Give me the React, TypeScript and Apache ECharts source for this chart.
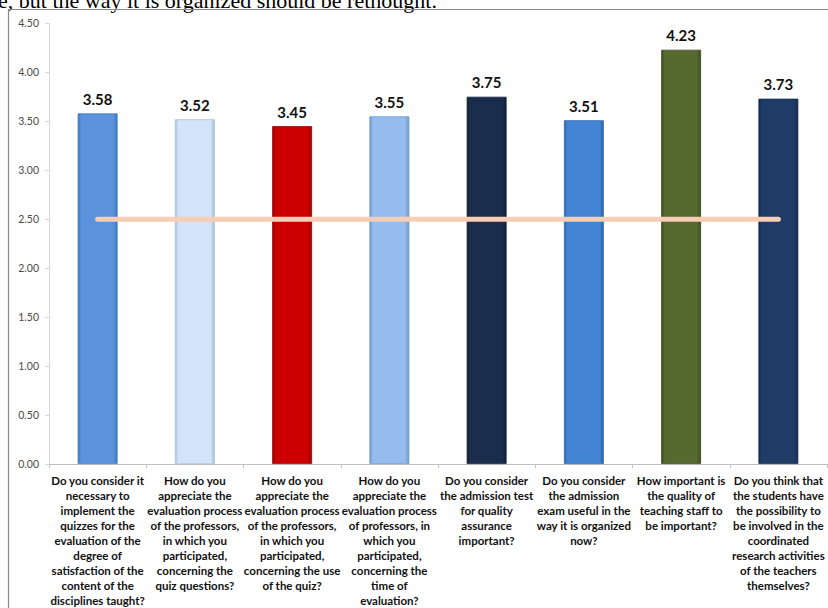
import React, { useEffect, useRef } from "react";
import * as echarts from "echarts";

// Question texts shown under each bar (pre-wrapped into lines)
const questions: string[] = [
  "Do you consider it\nnecessary to\nimplement the\nquizzes for the\nevaluation of the\ndegree of\nsatisfaction of the\ncontent of the\ndisciplines taught?",
  "How do you\nappreciate the\nevaluation process\nof the professors,\nin which you\nparticipated,\nconcerning the\nquiz questions?",
  "How do you\nappreciate the\nevaluation process\nof the professors,\nin which you\nparticipated,\nconcerning the use\nof the quiz?",
  "How do you\nappreciate the\nevaluation process\nof professors, in\nwhich you\nparticipated,\nconcerning the\ntime of\nevaluation?",
  "Do you consider\nthe admission test\nfor quality\nassurance\nimportant?",
  "Do you consider\nthe admission\nexam useful in the\nway it is organized\nnow?",
  "How important is\nthe quality of\nteaching staff to\nbe important?",
  "Do you think that\nthe students have\nthe possibility to\nbe involved in the\ncoordinated\nresearch activities\nof the teachers\nthemselves?",
];

// Mean scores per question
const meanScores: number[] = [3.58, 3.52, 3.45, 3.55, 3.75, 3.51, 4.23, 3.73];

// Reference level drawn across all questions
const referenceLevel: number[] = [2.5, 2.5, 2.5, 2.5, 2.5, 2.5, 2.5, 2.5];

// Bar fill colours: [edge, base]
const barColors: [string, string][] = [
  ["#3f76c0", "#5b93dd"],
  ["#a9bfdc", "#d2e4f9"],
  ["#9a0000", "#cc0000"],
  ["#6f98cc", "#96bced"],
  ["#0f213a", "#1b2d4c"],
  ["#2e66ad", "#4383d4"],
  ["#3c4c1f", "#56692e"],
  ["#152c4e", "#1f3c67"],
];

const yTicks = { min: 0, max: 4.5, interval: 0.5 };

function barFill(edge: string, base: string) {
  return new echarts.graphic.LinearGradient(0, 0, 1, 0, [
    { offset: 0, color: edge },
    { offset: 0.08, color: base },
    { offset: 0.9, color: base },
    { offset: 1, color: edge },
  ]);
}

export default function App() {
  const ref = useRef<HTMLDivElement>(null);

  useEffect(() => {
    if (!ref.current) return;
    const chart = echarts.init(ref.current, null, { renderer: "svg" });
    chart.setOption({
      animation: false,
      backgroundColor: "#ffffff",
      graphic: [
        {
          type: "text",
          x: -2,
          y: 0.5,
          z: 10,
          style: {
            text: "e, but the way it is organized should be rethought.",
            font: "22px 'Liberation Serif', 'Times New Roman', serif",
            fill: "#000000",
            verticalAlign: "middle",
            align: "left",
          },
        },
        {
          type: "rect",
          z: 10,
          shape: { x: 8.5, y: 9.5, width: 900, height: 800 },
          style: { fill: "none", stroke: "#8a8a8a", lineWidth: 1.2 },
        },
      ],
      grid: { left: 49, right: 1, top: 23.3, bottom: 143.7, containLabel: false },
      xAxis: {
        type: "category",
        data: questions,
        boundaryGap: true,
        axisLine: { show: true, lineStyle: { color: "#bfbfbf", width: 1 } },
        axisTick: { show: true, length: 4, lineStyle: { color: "#bfbfbf" } },
        axisLabel: {
          interval: 0,
          margin: 9,
          color: "#111111",
          fontFamily: "Lato",
          fontWeight: "bold",
          fontSize: 11.5,
          lineHeight: 15,
          align: "center",
        },
      },
      yAxis: {
        type: "value",
        min: yTicks.min,
        max: yTicks.max,
        interval: yTicks.interval,
        splitLine: { show: false },
        axisLine: { show: true, lineStyle: { color: "#d9d9d9", width: 1 } },
        axisTick: { show: true, length: 4, lineStyle: { color: "#d9d9d9" } },
        axisLabel: {
          margin: 10,
          color: "#4a4a4a",
          fontFamily: "Lato",
          fontSize: 10.5,
          formatter: (v: number) => v.toFixed(2),
        },
      },
      series: [
        {
          type: "bar",
          barWidth: "41%",
          data: meanScores.map((v, i) => ({
            value: v,
            itemStyle: {
              color: barFill(barColors[i][0], barColors[i][1]),
              borderColor: barColors[i][0],
              borderWidth: 0.8,
            },
          })),
          label: {
            show: true,
            position: "top",
            distance: 7,
            formatter: (p: any) => Number(p.value).toFixed(2),
            fontFamily: "Lato",
            fontWeight: "bold",
            fontSize: 15,
            color: "#111111",
          },
          z: 2,
        },
        {
          type: "line",
          data: referenceLevel,
          symbol: "none",
          lineStyle: { color: "#f7cdb5", width: 5, cap: "round" },
          z: 3,
        },
      ],
    });
    return () => chart.dispose();
  }, []);

  return (
    <div
      ref={ref}
      style={{ position: "fixed", left: 0, top: 0, width: 828, height: 608 }}
    />
  );
}
